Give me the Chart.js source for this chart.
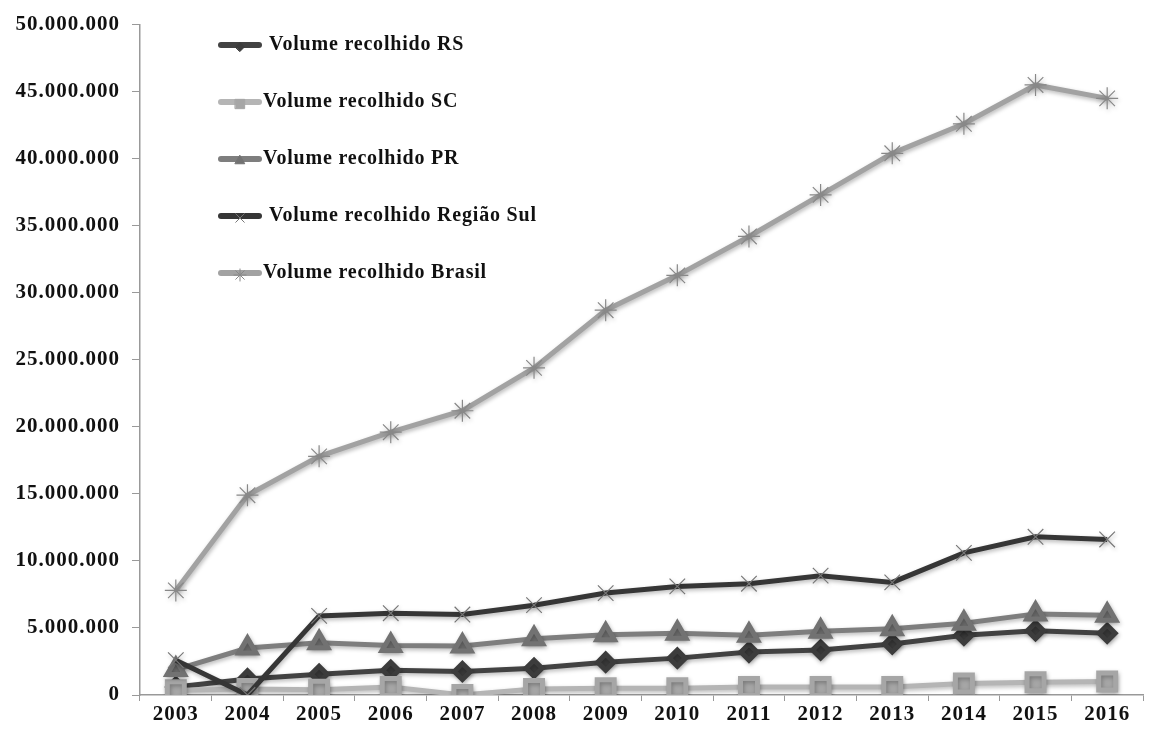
<!DOCTYPE html>
<html>
<head>
<meta charset="utf-8">
<script src="https://cdn.jsdelivr.net/npm/chart.js@4/dist/chart.umd.min.js"></script>
<style>
  html, body { margin: 0; padding: 0; background: #fff; overflow: hidden; }
  #wrap { width: 1160px; height: 729px; position: relative; }
</style>
</head>
<body>
<div id="wrap"><canvas id="volumeChart"></canvas></div>
<script>
const anos = ['2003', '2004', '2005', '2006', '2007', '2008', '2009', '2010', '2011', '2012', '2013', '2014', '2015', '2016'];

const volumeRS = [600000, 1200000, 1550000, 1850000, 1750000, 2000000, 2450000, 2750000, 3200000, 3350000, 3800000, 4450000, 4800000, 4600000];
const volumeSC = [350000, 450000, 400000, 600000, 0, 450000, 500000, 500000, 600000, 600000, 600000, 850000, 950000, 1000000];
const volumePR = [1900000, 3500000, 3900000, 3700000, 3650000, 4200000, 4500000, 4600000, 4450000, 4750000, 4950000, 5350000, 6050000, 5950000];
const volumeSul = [2600000, 0, 5900000, 6100000, 6000000, 6700000, 7600000, 8100000, 8300000, 8900000, 8400000, 10600000, 11800000, 11600000];
const volumeBrasil = [7800000, 14900000, 17800000, 19600000, 21200000, 24400000, 28700000, 31300000, 34200000, 37300000, 40400000, 42600000, 45500000, 44500000];

const yTicks = [0, 5000000, 10000000, 15000000, 20000000, 25000000, 30000000, 35000000, 40000000, 45000000, 50000000];

function formatBR(v) {
  return String(v).replace(/\B(?=(\d{3})+(?!\d))/g, '.');
}

const serif = '"Liberation Serif", "DejaVu Serif", serif';

// slight letter spacing for the axis labels
const espacamento = {
  id: 'espacamento',
  beforeUpdate(chart) { chart.ctx.letterSpacing = '1px'; },
  beforeDraw(chart) { chart.ctx.letterSpacing = '1px'; }
};

// soft shadow under lines and markers
const sombra = {
  id: 'sombra',
  beforeDatasetsDraw(chart) {
    const c = chart.ctx;
    c.save();
    c.shadowColor = 'rgba(0,0,0,0.28)';
    c.shadowBlur = 4;
    c.shadowOffsetX = 1;
    c.shadowOffsetY = 2;
  },
  afterDatasetsDraw(chart) {
    chart.ctx.restore();
  }
};

// legend drawn as a vertical list inside the plot area
const legendaVertical = {
  id: 'legendaVertical',
  afterDraw(chart) {
    const c = chart.ctx;
    const startY = 45, gap = 57;
    c.save();
    chart.data.datasets.forEach((ds, i) => {
      const y = startY + i * gap;
      c.strokeStyle = ds.borderColor;
      c.lineWidth = 6;
      c.lineCap = 'round';
      c.beginPath();
      c.moveTo(221, y);
      c.lineTo(259, y);
      c.stroke();
      c.fillStyle = ds.backgroundColor;
      c.strokeStyle = ds.pointBorderColor;
      c.lineWidth = 1;
      Chart.helpers.drawPoint(c, { pointStyle: ds.pointStyle, radius: ds.pointRadius * 0.55, rotation: 0, borderWidth: 1 }, 240, y + 2);
      c.fillStyle = '#111';
      c.font = 'bold 20px ' + serif;
      c.letterSpacing = '0.8px';
      c.textBaseline = 'middle';
      c.textAlign = 'left';
      c.fillText(ds.label, ds.labelX, y);
    });
    c.restore();
  }
};

const ctx = document.getElementById('volumeChart').getContext('2d');

const chart = new Chart(ctx, {
  type: 'line',
  data: {
    labels: anos,
    datasets: [{
      label: 'Volume recolhido RS',
      labelX: 269,
      data: volumeRS,
      borderColor: '#424242',
      backgroundColor: '#3c3c3c',
      pointBorderColor: '#3c3c3c',
      borderWidth: 5,
      pointStyle: 'rectRot',
      pointRadius: 8,
      order: 5
    }, {
      label: 'Volume recolhido SC',
      labelX: 263,
      data: volumeSC,
      borderColor: '#b5b5b5',
      backgroundColor: '#a6a6a6',
      pointBorderColor: '#a6a6a6',
      borderWidth: 5,
      pointStyle: 'rect',
      pointRadius: 12,
      order: 4
    }, {
      label: 'Volume recolhido PR',
      labelX: 263,
      data: volumePR,
      borderColor: '#7e7e7e',
      backgroundColor: '#727272',
      pointBorderColor: '#727272',
      borderWidth: 5,
      pointStyle: 'triangle',
      pointRadius: 10,
      order: 3
    }, {
      label: 'Volume recolhido Região Sul',
      labelX: 269,
      data: volumeSul,
      borderColor: '#363636',
      backgroundColor: '#363636',
      borderWidth: 5,
      pointStyle: 'crossRot',
      pointRadius: 11,
      pointBorderWidth: 1.2,
      pointBorderColor: '#777',
      order: 2
    }, {
      label: 'Volume recolhido Brasil',
      labelX: 263,
      data: volumeBrasil,
      borderColor: '#a2a2a2',
      backgroundColor: '#a2a2a2',
      borderWidth: 5,
      pointStyle: 'star',
      pointRadius: 11,
      pointBorderWidth: 1.2,
      pointBorderColor: '#888',
      order: 1
    }]
  },
  options: {
    responsive: true,
    maintainAspectRatio: false,
    animation: false,
    layout: { padding: { top: 13, right: 1, left: 0, bottom: 0 } },
    plugins: {
      legend: { display: false },
      tooltip: { enabled: false }
    },
    elements: { line: { tension: 0 } },
    scales: {
      x: {
        offset: true,
        grid: {
          offset: true,
          drawOnChartArea: false,
          tickLength: 6,
          color: '#999'
        },
        border: { color: '#999', width: 1.5 },
        ticks: {
          color: '#111',
          font: { family: serif, size: 21, weight: 'bold' },
          padding: 1,
          maxRotation: 0
        },
        afterFit(scale) { scale.height = 34; }
      },
      y: {
        min: 0,
        max: 50000000,
        afterBuildTicks(scale) {
          scale.ticks = yTicks.map(v => ({ value: v }));
        },
        grid: {
          drawOnChartArea: false,
          tickLength: 8,
          color: '#999'
        },
        border: { color: '#999', width: 1.5 },
        ticks: {
          color: '#111',
          font: { family: serif, size: 21, weight: 'bold' },
          padding: 12,
          callback: v => formatBR(v)
        },
        afterFit(scale) { scale.width = 140; }
      }
    }
  },
  plugins: [espacamento, sombra, legendaVertical]
});
</script>
</body>
</html>
